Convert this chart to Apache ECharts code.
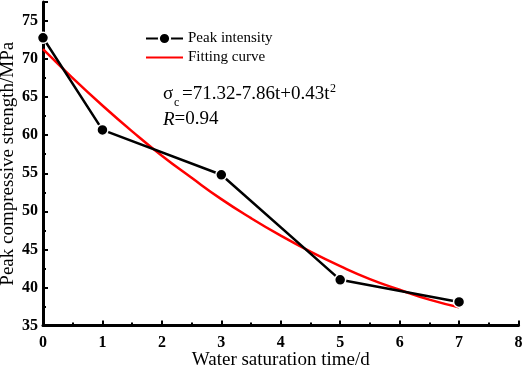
<!DOCTYPE html>
<html>
<head>
<meta charset="utf-8">
<script src="https://cdn.jsdelivr.net/npm/echarts@6/dist/echarts.min.js"></script>
<style>
    html, body { margin: 0; padding: 0; background: #fff; }
    #chart { width: 526px; height: 369px; }
</style>
</head>
<body>
<div id="chart"></div>
<script>
    // 测试数据：饱水时间 (d) 与峰值抗压强度 (MPa)
    var days = [0, 1, 3, 5, 7];
    var peakStrength = [72.8, 60.7, 54.8, 41.0, 38.1];
    // 拟合曲线
    var fitDays = [0, 0.5, 1, 1.5, 2, 2.5, 3, 3.5, 4, 4.5, 5, 5.5, 6, 6.5, 7];
    var fitStrength = [71.3, 67.5, 63.9, 60.5, 57.3, 54.4, 51.6, 49.1, 46.8, 44.7, 42.8, 41.1, 39.7, 38.4, 37.4];
    var seriesNames = ['Peak intensity', 'Fitting curve'];

    var serif = 'Liberation Serif, Times New Roman, serif';

    function pairs(xs, ys) {
        var out = [];
        for (var i = 0; i < xs.length; i++) {
            out.push([xs[i], ys[i]]);
        }
        return out;
    }

    var chart = echarts.init(document.getElementById('chart'));
    chart.setOption({
        animation: false,
        grid: { left: 43, right: 7.5, top: 2, bottom: 43.5, outerBoundsMode: 'none', containLabel: false },
        legend: {
            orient: 'vertical',
            left: 140,
            top: 26,
            itemWidth: 37,
            itemHeight: 14,
            itemGap: 4,
            textStyle: { fontFamily: serif, fontSize: 15, color: '#000' },
            data: [
                { name: seriesNames[0] },
                { name: seriesNames[1], itemStyle: { opacity: 0 } }
            ]
        },
        xAxis: {
            type: 'value',
            min: 0,
            max: 8,
            interval: 1,
            name: 'Water saturation time/d',
            nameLocation: 'middle',
            nameGap: 25,
            nameMoveOverlap: false,
            nameTextStyle: { fontFamily: serif, fontSize: 19, color: '#000' },
            axisLine: { lineStyle: { color: '#000', width: 3 } },
            axisTick: { inside: true, length: 5, lineStyle: { width: 2, color: '#000' } },
            minorTick: { show: true, splitNumber: 2, length: 3, lineStyle: { width: 2, color: '#000' } },
            axisLabel: { fontFamily: serif, fontSize: 16, fontWeight: 'bold', color: '#000', margin: 9 },
            splitLine: { show: false }
        },
        yAxis: {
            type: 'value',
            min: 35,
            max: 77.5,
            interval: 5,
            name: 'Peak compressive strength/MPa',
            nameLocation: 'middle',
            nameGap: 25,
            nameMoveOverlap: false,
            nameTextStyle: { fontFamily: serif, fontSize: 19, color: '#000' },
            axisLine: { lineStyle: { color: '#000', width: 3 } },
            axisTick: { inside: true, length: 5, lineStyle: { width: 2, color: '#000' } },
            minorTick: { show: true, splitNumber: 2, length: 3, lineStyle: { width: 2, color: '#000' } },
            axisLabel: {
                fontFamily: serif, fontSize: 16, fontWeight: 'bold', color: '#000', margin: 5,
                formatter: function (v) { return v % 5 === 0 ? v : ''; }
            },
            splitLine: { show: false }
        },
        graphic: [
            { type: 'text', left: 163, top: 85, style: { text: 'σ', font: '19px ' + serif, fill: '#000' } },
            { type: 'text', left: 174, top: 97, style: { text: 'c', font: '12px ' + serif, fill: '#000' } },
            { type: 'text', left: 182, top: 85, style: { text: '=71.32-7.86t+0.43t', font: '19px ' + serif, fill: '#000' } },
            { type: 'text', left: 330, top: 83, style: { text: '2', font: '12px ' + serif, fill: '#000' } },
            {
                type: 'text', left: 163, top: 110,
                style: {
                    text: '{i|R}=0.94',
                    font: '19px ' + serif,
                    fill: '#000',
                    rich: { i: { fontStyle: 'italic', fontSize: 19, fontFamily: serif } }
                }
            }
        ],
        series: [
            {
                name: seriesNames[1],
                type: 'line',
                smooth: true,
                symbol: 'none',
                color: '#ff0000',
                lineStyle: { color: '#ff0000', width: 2.5 },
                data: pairs(fitDays, fitStrength)
            },
            {
                name: seriesNames[0],
                type: 'line',
                symbol: 'circle',
                symbolSize: 11,
                color: '#000',
                itemStyle: { color: '#000', borderColor: '#fff', borderWidth: 1.5 },
                lineStyle: { color: '#000', width: 2.5 },
                data: pairs(days, peakStrength)
            }
        ]
    });
</script>
</body>
</html>
